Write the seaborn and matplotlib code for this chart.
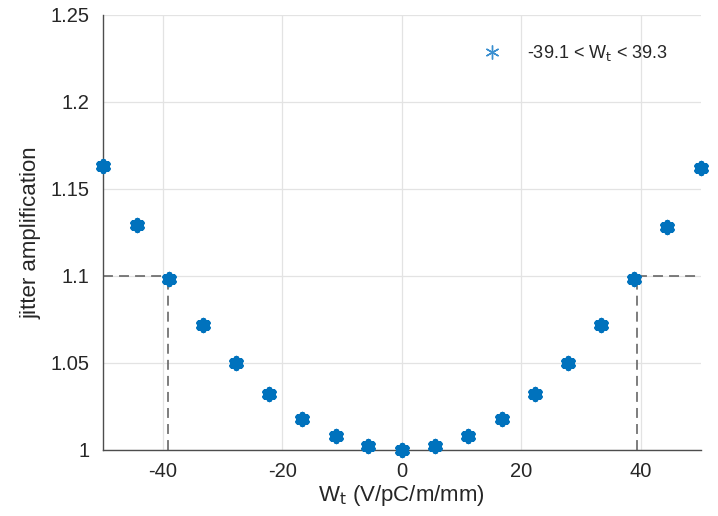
import numpy as np
import pandas as pd
import matplotlib
matplotlib.use("Agg")
import matplotlib.pyplot as plt
from matplotlib.lines import Line2D
import seaborn as sns

# Wake strength scan and resulting jitter amplification
wt = [-50.0, -44.4, -38.9, -33.3, -27.8, -22.2, -16.7, -11.1, -5.6, 0.0,
      5.6, 11.1, 16.7, 22.2, 27.8, 33.3, 38.9, 44.4, 50.0]
amp = [1.163, 1.129, 1.098, 1.072, 1.050, 1.032, 1.018, 1.008, 1.002, 1.000,
       1.002, 1.008, 1.018, 1.032, 1.050, 1.072, 1.098, 1.128, 1.162]

# Range where amplification stays below the threshold
threshold = 1.1
wt_low, wt_high = -39.1, 39.3

xticks = [-40, -20, 0, 20, 40]
yticks = [1.0, 1.05, 1.1, 1.15, 1.2, 1.25]
yticklabels = ["1", "1.05", "1.1", "1.15", "1.2", "1.25"]

df = pd.DataFrame({"wt": wt, "amp": amp})

sns.set_theme(style="white")
plt.rcParams["font.family"] = ["Liberation Sans", "DejaVu Sans"]

blue = "#0072BD"
axis_gray = "#4d4d4d"
dash = (0, (6.5, 4))

fig = plt.figure(figsize=(7.18, 5.16), dpi=100)
ax = fig.add_axes([0.1435, 0.128, 0.8325, 0.843])

# threshold guide lines
ax.plot([-50, wt_low], [threshold, threshold], ls=dash, color="#5a5a5a", lw=1.1, zorder=2)
ax.plot([wt_low, wt_low], [1.0, threshold], ls=dash, color="#5a5a5a", lw=1.1, zorder=2)
ax.plot([wt_high, 50], [threshold, threshold], ls=dash, color="#5a5a5a", lw=1.1, zorder=2)
ax.plot([wt_high, wt_high], [1.0, threshold], ls=dash, color="#5a5a5a", lw=1.1, zorder=2)

sns.scatterplot(data=df, x="wt", y="amp", ax=ax, marker=(6, 2, 0), s=48,
                color=blue, edgecolor=blue, linewidth=4.2, zorder=3, clip_on=False,
                legend=False)

ax.set_xlim(-50, 50)
ax.set_ylim(1.0, 1.25)
ax.set_xticks(xticks)
ax.set_xticklabels([str(t) for t in xticks])
ax.set_yticks(yticks)
ax.set_yticklabels(yticklabels)

ax.grid(True, color="#e3e3e3", lw=0.9)
ax.set_axisbelow(True)
for side in ["top", "right"]:
    ax.spines[side].set_visible(False)
for side in ["left", "bottom"]:
    ax.spines[side].set_color(axis_gray)
    ax.spines[side].set_linewidth(1.0)

ax.tick_params(axis="both", direction="in", length=5, width=0.8, color=axis_gray,
               labelsize=14.5, labelcolor="#262626")
ax.tick_params(axis="y", pad=10)
ax.tick_params(axis="x", pad=9)

ax.set_xlabel(r"W$_\mathrm{t}$ (V/pC/m/mm)", fontsize=16, color="#262626", labelpad=1)
ax.set_ylabel("jitter amplification", fontsize=16, color="#262626", labelpad=6)

handle = Line2D([], [], ls="none", marker=(6, 2, 0), markersize=10,
                markeredgewidth=1.0, color="#3a8fd0")
ax.legend([handle], [r"-39.1 < W$_\mathrm{t}$ < 39.3"], loc="upper right",
          bbox_to_anchor=(0.99, 0.997), frameon=False, fontsize=13,
          handletextpad=0.9, borderpad=1.0)

fig.savefig("out.png", dpi=100)
